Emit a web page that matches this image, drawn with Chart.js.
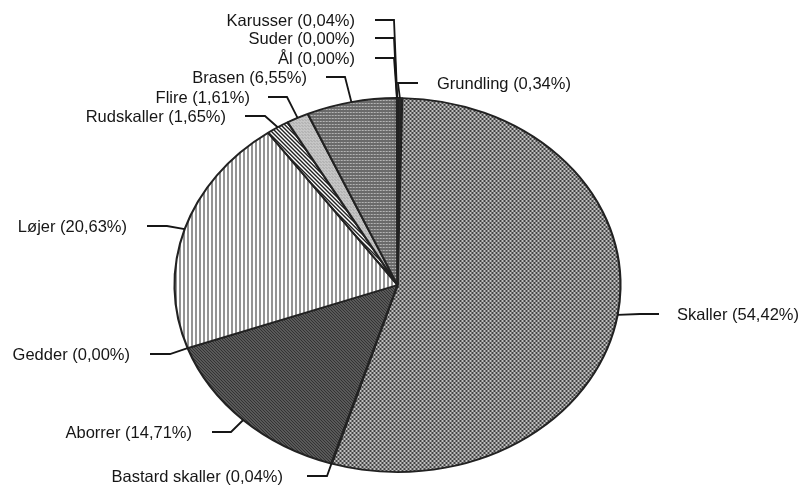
<!DOCTYPE html>
<html>
<head>
<meta charset="utf-8">
<script src="https://cdn.jsdelivr.net/npm/chart.js@4/dist/chart.umd.min.js"></script>
<style>
  html,body{margin:0;padding:0;background:#fff;}
  #wrap{width:806px;height:487px;position:relative;}
</style>
</head>
<body>
<div id="wrap"><canvas id="c" width="806" height="487"></canvas></div>
<script>
// ---- data ----
const categories = ['Grundling','Skaller','Bastard skaller','Aborrer','Gedder','Løjer','Rudskaller','Flire','Brasen','Ål','Suder','Karusser'];
const shares = [0.34, 54.42, 0.04, 14.71, 0.00, 20.63, 1.65, 1.61, 6.55, 0.00, 0.00, 0.04];

// ---- styling ----
const SX = 223 / 187; // horizontal stretch of the pie into an ellipse
const INK = '#161616';
const FONT = '16.5px "Liberation Sans", Arial, sans-serif';

function makePattern(w, h, draw) {
  const c = document.createElement('canvas');
  c.width = w; c.height = h;
  const g = c.getContext('2d');
  draw(g, w, h);
  const p = document.getElementById('c').getContext('2d').createPattern(c, 'repeat');
  p.setTransform(new DOMMatrix([1 / SX, 0, 0, 1, 0, 0]));
  return p;
}
const patSkaller = makePattern(4, 4, (g) => {
  g.fillStyle = '#c0c0c0'; g.fillRect(0, 0, 4, 4);
  g.fillStyle = '#444'; g.fillRect(0, 0, 2, 2); g.fillRect(2, 2, 2, 2);
});
const patBrasen = makePattern(3, 3, (g) => {
  g.fillStyle = '#6a6a6a'; g.fillRect(0, 0, 3, 3);
  g.fillStyle = '#d0d0d0'; g.fillRect(1, 1, 1, 1);
  g.fillStyle = '#999'; g.fillRect(0, 1, 1, 1);
});
const patFlire = makePattern(3, 3, (g) => {
  g.fillStyle = '#c6c6c6'; g.fillRect(0, 0, 3, 3);
  g.fillStyle = '#a4a4a4'; g.fillRect(1, 0, 1, 1); g.fillRect(0, 2, 1, 1);
});
const patRud = makePattern(4, 4, (g) => {
  g.fillStyle = '#ffffff'; g.fillRect(0, 0, 4, 4);
  g.fillStyle = '#222';
  for (let i = 0; i < 4; i++) { g.fillRect(i, i, 1, 1); g.fillRect((i + 1) % 4, i, 1, 1); }
});
const patLojer = makePattern(4, 4, (g) => {
  g.fillStyle = '#ffffff'; g.fillRect(0, 0, 4, 4);
  g.fillStyle = '#2a2a2a'; g.fillRect(0, 0, 1, 4);
});
const patAborrer = makePattern(3, 3, (g) => {
  g.fillStyle = '#333'; g.fillRect(0, 0, 3, 3);
  g.fillStyle = '#808080';
  for (let i = 0; i < 3; i++) g.fillRect(i, i, 1, 1);
});

const fills = {
  'Grundling': '#262626',
  'Skaller': patSkaller,
  'Bastard skaller': '#262626',
  'Aborrer': patAborrer,
  'Gedder': '#262626',
  'Løjer': patLojer,
  'Rudskaller': patRud,
  'Flire': patFlire,
  'Brasen': patBrasen,
  'Ål': '#262626',
  'Suder': '#262626',
  'Karusser': '#262626'
};

// label layout: elbow point, end of horizontal stub, text anchor
const labelLayout = {
  'Karusser':        {ex: 394, ey: 20,  lx: 375, tx: 355, align: 'right'},
  'Suder':           {ex: 394, ey: 38,  lx: 375, tx: 355, align: 'right'},
  'Ål':              {ex: 394, ey: 58,  lx: 375, tx: 355, align: 'right'},
  'Grundling':       {ex: 398, ey: 83,  lx: 418, tx: 437, align: 'left'},
  'Brasen':          {ex: 345, ey: 77,  lx: 326, tx: 307, align: 'right'},
  'Flire':           {ex: 287, ey: 97,  lx: 268, tx: 250, align: 'right'},
  'Rudskaller':      {ex: 265, ey: 116, lx: 245, tx: 226, align: 'right'},
  'Løjer':           {ex: 167, ey: 226, lx: 147, tx: 127, align: 'right'},
  'Gedder':          {ex: 170, ey: 354, lx: 150, tx: 130, align: 'right'},
  'Aborrer':         {ex: 231, ey: 432, lx: 212, tx: 192, align: 'right'},
  'Bastard skaller': {ex: 327, ey: 476, lx: 307, tx: 283, align: 'right'},
  'Skaller':         {ex: 640, ey: 314, lx: 659, tx: 677, align: 'left'}
};

const ellipsePlugin = {
  id: 'ellipse',
  beforeDatasetsDraw(chart) {
    const a = chart.getDatasetMeta(0).data[0];
    const ctx = chart.ctx;
    ctx.save();
    ctx.translate(a.x, a.y);
    ctx.scale(SX, 1);
    ctx.translate(-a.x, -a.y);
  },
  afterDatasetsDraw(chart) { chart.ctx.restore(); }
};

const labelPlugin = {
  id: 'callouts',
  afterDraw(chart) {
    const ctx = chart.ctx;
    const arcs = chart.getDatasetMeta(0).data;
    ctx.save();
    ctx.strokeStyle = INK;
    ctx.fillStyle = INK;
    ctx.lineWidth = 1.8;
    ctx.font = FONT;
    ctx.textBaseline = 'middle';
    categories.forEach((cat, i) => {
      const L = labelLayout[cat];
      const a = arcs[i];
      const mid = (a.startAngle + a.endAngle) / 2;
      const axp = a.x + Math.cos(mid) * a.outerRadius * SX;
      const ayp = a.y + Math.sin(mid) * a.outerRadius;
      ctx.beginPath();
      ctx.moveTo(axp, ayp);
      ctx.lineTo(L.ex, L.ey);
      ctx.lineTo(L.lx, L.ey);
      ctx.stroke();
      ctx.textAlign = L.align;
      const txt = cat + ' (' + shares[i].toFixed(2).replace('.', ',') + '%)';
      ctx.fillText(txt, L.tx, L.ey + 1);
    });
    ctx.restore();
  }
};

new Chart(document.getElementById('c'), {
  type: 'pie',
  data: {
    labels: categories,
    datasets: [{
      data: shares,
      backgroundColor: categories.map(c => fills[c]),
      borderColor: '#222',
      borderWidth: 1.8,
      hoverOffset: 0,
      offset: 0,
      clip: false
    }]
  },
  options: {
    responsive: false,
    animation: false,
    radius: 187,
    layout: {padding: {top: 98, bottom: 15, left: 210, right: 221}},
    plugins: {legend: {display: false}, tooltip: {enabled: false}},
    events: []
  },
  plugins: [ellipsePlugin, labelPlugin]
});
</script>
</body>
</html>
